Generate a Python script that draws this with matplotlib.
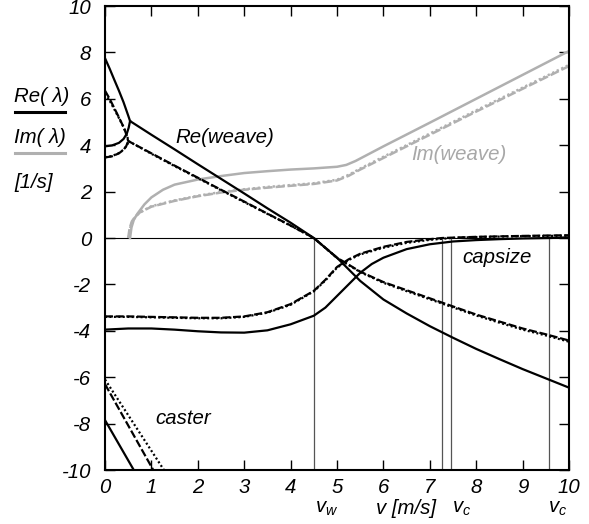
import matplotlib
matplotlib.use("Agg")
import matplotlib.pyplot as plt
from matplotlib.lines import Line2D

plt.rcParams['font.family'] = ['Liberation Sans', 'DejaVu Sans']
plt.rcParams['mathtext.fontset'] = 'custom'
plt.rcParams['mathtext.it'] = 'Liberation Sans:italic'
plt.rcParams['mathtext.rm'] = 'Liberation Sans'

# ---------------- data ----------------
# solid model
sol_up_v = [0.0, 0.1, 0.2, 0.3, 0.4, 0.47, 0.51, 0.54, 1.0, 1.5, 2.0, 2.5, 3.0, 3.5, 4.0, 4.5,
            5.0, 5.5, 6.0, 6.5, 7.0, 7.5, 8.0, 8.5, 9.0, 9.5, 10.0]
sol_up_re = [7.75, 7.3, 6.82, 6.35, 5.85, 5.45, 5.22, 5.04, 4.45, 3.82, 3.18, 2.55, 1.92, 1.28, 0.66, 0.0,
             -0.85, -1.85, -2.65, -3.25, -3.8, -4.3, -4.78, -5.22, -5.65, -6.05, -6.45]
sol_lo_v = [0.0, 0.15, 0.3, 0.4, 0.47, 0.51, 0.54]
sol_lo_re = [3.95, 3.99, 4.1, 4.27, 4.5, 4.75, 5.04]
sol_cap_v = [0.0, 0.5, 1.0, 1.5, 2.0, 2.5, 3.0, 3.5, 4.0, 4.5, 4.75, 5.0, 5.25, 5.5, 5.75, 6.0,
             6.5, 7.0, 7.5, 8.0, 8.5, 9.0, 9.6, 10.0]
sol_cap_re = [-3.95, -3.9, -3.9, -3.95, -4.02, -4.07, -4.08, -3.98, -3.72, -3.35, -3.0, -2.5, -2.0, -1.5,
              -1.12, -0.85, -0.48, -0.27, -0.15, -0.09, -0.05, -0.02, 0.0, 0.03]
sol_cas_v = [0.0, 0.62]
sol_cas_re = [-7.85, -10.0]
sol_im_v = [0.54, 0.57, 0.62, 0.7, 0.85, 1.0, 1.25, 1.5, 2.0, 2.5, 3.0, 3.5, 4.0, 4.5, 5.0, 5.2,
            5.4, 5.6, 6.0, 7.0, 8.0, 9.0, 10.0]
sol_im = [0.0, 0.45, 0.78, 1.05, 1.45, 1.75, 2.08, 2.3, 2.52, 2.67, 2.8, 2.88, 2.95, 3.0, 3.07, 3.15,
          3.32, 3.53, 3.95, 4.97, 6.0, 7.03, 8.06]

# dashed model
das_up_v = [0.0, 0.1, 0.2, 0.3, 0.4, 0.45, 0.5, 1.0, 1.5, 2.0, 2.5, 3.0, 3.5, 4.0, 4.5,
            5.0, 5.5, 6.0, 6.5, 7.0, 7.5, 8.0, 8.5, 9.0, 9.5, 10.0]
das_up_re = [6.35, 6.0, 5.6, 5.2, 4.78, 4.52, 4.18, 3.65, 3.12, 2.6, 2.08, 1.57, 1.05, 0.54, 0.0,
             -0.85, -1.45, -1.9, -2.25, -2.6, -2.95, -3.3, -3.6, -3.9, -4.15, -4.42]
das_lo_v = [0.0, 0.15, 0.3, 0.4, 0.46, 0.5]
das_lo_re = [3.47, 3.52, 3.65, 3.8, 3.97, 4.18]
das_cap_v = [0.0, 0.5, 1.0, 1.5, 2.0, 2.5, 3.0, 3.5, 4.0, 4.5, 4.75, 5.0, 5.25, 5.5, 6.0, 6.5,
             7.0, 7.27, 8.0, 9.0, 10.0]
das_cap_re = [-3.38, -3.38, -3.4, -3.42, -3.44, -3.44, -3.38, -3.2, -2.85, -2.28, -1.8, -1.25, -0.92,
              -0.68, -0.38, -0.17, -0.05, 0.0, 0.05, 0.09, 0.12]
das_cas_v = [0.0, 1.04]
das_cas_re = [-6.3, -10.0]
das_im_v = [0.5, 0.53, 0.58, 0.65, 0.75, 1.0, 1.5, 2.0, 2.5, 3.0, 3.5, 4.0, 4.5, 5.0, 5.25, 5.5,
            6.0, 7.0, 8.0, 9.0, 10.0]
das_im = [0.0, 0.42, 0.72, 0.92, 1.1, 1.35, 1.6, 1.8, 1.96, 2.08, 2.17, 2.25, 2.33, 2.48, 2.68, 2.95,
          3.45, 4.45, 5.45, 6.43, 7.41]

# dotted model
dot_up_v = [0.0, 0.1, 0.2, 0.3, 0.4, 0.46, 0.51, 1.0, 1.5, 2.0, 2.5, 3.0, 3.5, 4.0, 4.5,
            5.0, 5.5, 6.0, 6.5, 7.0, 7.5, 8.0, 8.5, 9.0, 9.5, 10.0]
dot_up_re = [6.22, 5.92, 5.55, 5.17, 4.78, 4.5, 4.17, 3.63, 3.1, 2.58, 2.06, 1.55, 1.04, 0.53, 0.0,
             -0.86, -1.47, -1.93, -2.29, -2.64, -2.99, -3.34, -3.65, -3.95, -4.2, -4.47]
dot_lo_v = [0.0, 0.15, 0.3, 0.4, 0.47, 0.51]
dot_lo_re = [3.48, 3.53, 3.66, 3.81, 3.98, 4.17]
dot_cap_v = [0.0, 0.5, 1.0, 1.5, 2.0, 2.5, 3.0, 3.5, 4.0, 4.5, 4.75, 5.0, 5.25, 5.5, 6.0, 6.5,
             7.0, 7.46, 8.0, 9.0, 10.0]
dot_cap_re = [-3.4, -3.4, -3.42, -3.44, -3.46, -3.46, -3.4, -3.22, -2.88, -2.3, -1.83, -1.28, -0.95,
              -0.71, -0.42, -0.21, -0.08, 0.0, 0.04, 0.08, 0.1]
dot_cas_v = [0.0, 1.27]
dot_cas_re = [-6.1, -10.0]
dot_im_v = [0.51, 0.54, 0.59, 0.66, 0.76, 1.0, 1.5, 2.0, 2.5, 3.0, 3.5, 4.0, 4.5, 5.0, 5.25, 5.5,
            6.0, 7.0, 8.0, 9.0, 10.0]
dot_im = [0.0, 0.42, 0.72, 0.93, 1.11, 1.37, 1.62, 1.82, 1.98, 2.1, 2.2, 2.28, 2.36, 2.51, 2.72, 2.99,
          3.5, 4.5, 5.5, 6.48, 7.46]

# marked speeds
v_weave = 4.5
v_caps = [7.27, 7.46, 9.57]

x_ticks = [0, 1, 2, 3, 4, 5, 6, 7, 8, 9, 10]
y_ticks = [-10, -8, -6, -4, -2, 0, 2, 4, 6, 8, 10]

# ---------------- figure ----------------
W, H = 589, 524
FS = 14.7
fig = plt.figure(figsize=(W / 100, H / 100), dpi=100)
ax = fig.add_axes([105 / W, 1 - 470 / H, 464 / W, 464 / H])

BLACK = 'black'
GRAY = '#b0b0b0'
lw = 1.6
dash = (3.6, 1.2)
dots = (0.9, 1.1)

# reference lines
ax.plot([0, 10], [0, 0], color='black', lw=0.8, zorder=1)
for vc in [v_weave] + v_caps:
    ax.plot([vc, vc], [0, -10], color='#555555', lw=0.9, zorder=1)

# imaginary parts (gray)
ax.plot(sol_im_v, sol_im, color=GRAY, lw=1.8, zorder=2)
ax.plot(das_im_v, das_im, color=GRAY, lw=1.8, dashes=dash, zorder=2)
ax.plot(dot_im_v, dot_im, color=GRAY, lw=1.8, dashes=dots, zorder=2)

# real parts (black)
for (v, r) in [(sol_up_v, sol_up_re), (sol_lo_v, sol_lo_re), (sol_cap_v, sol_cap_re),
               (sol_cas_v, sol_cas_re)]:
    ax.plot(v, r, color=BLACK, lw=lw, zorder=3)
for (v, r) in [(das_up_v, das_up_re), (das_lo_v, das_lo_re), (das_cap_v, das_cap_re),
               (das_cas_v, das_cas_re)]:
    ax.plot(v, r, color=BLACK, lw=lw, dashes=dash, zorder=3)
for (v, r) in [(dot_up_v, dot_up_re), (dot_lo_v, dot_lo_re), (dot_cap_v, dot_cap_re),
               (dot_cas_v, dot_cas_re)]:
    ax.plot(v, r, color=BLACK, lw=lw, dashes=dots, zorder=3)

ax.set_xlim(0, 10)
ax.set_ylim(-10, 10)
ax.set_xticks(x_ticks)
ax.set_yticks(y_ticks)
ax.set_xticklabels([str(t) for t in x_ticks], fontstyle='italic', fontsize=FS)
ax.set_yticklabels([str(t) for t in y_ticks], fontstyle='italic', fontsize=FS)
ax.tick_params(direction='in', length=7, width=1.0, top=True, right=True)
ax.tick_params(axis='x', pad=6)
ax.tick_params(axis='y', pad=10)
for s in ax.spines.values():
    s.set_linewidth(1.5)

# annotations
ax.text(2.59, 4.34, 'Re(weave)', fontsize=FS, fontstyle='italic', ha='center', va='center')
ax.text(7.62, 3.6, 'Im(weave)', fontsize=FS, fontstyle='italic', ha='center', va='center', color='#a8a8a8')
ax.text(8.44, -0.85, 'capsize', fontsize=FS, fontstyle='italic', ha='center', va='center')
ax.text(1.69, -7.8, 'caster', fontsize=FS, fontstyle='italic', ha='center', va='center')

# labels below axis
def fy(py):
    return 1 - py / H

def fx(px):
    return px / W

fig.text(fx(326.7), fy(509), r'$v_w$', fontsize=FS, ha='center', va='center')
fig.text(fx(406), fy(509), 'v [m/s]', fontsize=FS, fontstyle='italic', ha='center', va='center')
fig.text(fx(461.7), fy(509), r'$v_c$', fontsize=FS, ha='center', va='center')
fig.text(fx(558), fy(509), r'$v_c$', fontsize=FS, ha='center', va='center')

# left labels
fig.text(fx(14), fy(96), 'Re( λ)', fontsize=FS, fontstyle='italic', ha='left', va='center')
fig.add_artist(Line2D([fx(15), fx(65)], [fy(112), fy(112)], color='black', lw=2.2))
fig.text(fx(14), fy(138), 'Im( λ)', fontsize=FS, fontstyle='italic', ha='left', va='center')
fig.add_artist(Line2D([fx(15), fx(65)], [fy(153), fy(153)], color=GRAY, lw=2.2))
fig.text(fx(14), fy(182), '[1/s]', fontsize=FS, fontstyle='italic', ha='left', va='center')

fig.savefig('out.png', dpi=100)
